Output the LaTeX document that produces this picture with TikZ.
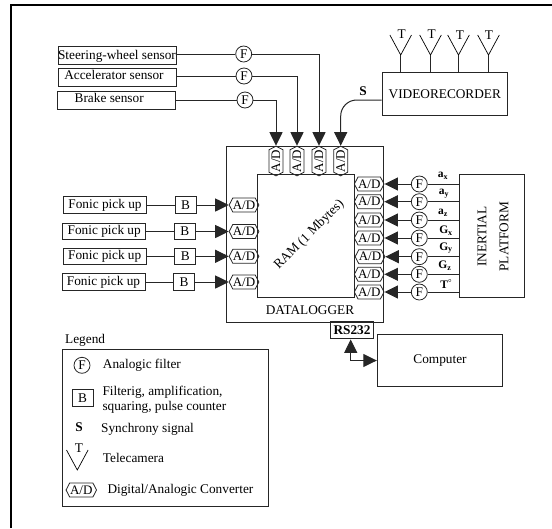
\documentclass[tikz,border=0pt]{standalone}
\usepackage{fontspec}
\setmainfont{Liberation Serif}
\usetikzlibrary{arrows.meta,positioning,shapes.symbols}

\begin{document}
\begin{tikzpicture}[
    x=1pt, y=-1pt,
    >={Triangle[length=13.5pt,width=13pt]},
    every node/.style={font=\fontsize{13.3}{15}\selectfont, inner sep=0pt},
    box/.style={draw=black!85, line width=1pt, align=center},
    sensor/.style={box, minimum width=118pt, minimum height=18pt,
                   text height=9pt, text depth=#1},
    fonic/.style={box, minimum width=83pt, minimum height=16.5pt},
    bbox/.style={box, minimum width=21pt, minimum height=16.5pt},
    filt/.style={draw=black!85, line width=0.8pt, circle, minimum size=16pt},
    ad/.style={draw=black!85, line width=0.8pt, signal, signal to=west and east,
               signal pointer angle=125, minimum width=28.5pt, minimum height=14pt,
               font=\fontsize{13}{14}\selectfont},
    wire/.style={draw=black!85, line width=1pt},
    arr/.style={wire, ->},
    lbl/.style={font=\fontsize{11.5}{13}\selectfont\bfseries},
    txt/.style={anchor=west, align=left},
    camera/.pic={\draw[line width=0.7pt] (-10.8,-20) -- (0,0) -- (10.8,-20);},
  ]
  \useasboundingbox (0,0) rectangle (552,528);

  % frame (top and left only)
  \coordinate (frameA) at (11,528);
  \coordinate (frameB) at (11,5);
  \coordinate (frameC) at (552,5);
  \draw[line width=1.5pt] (frameA) -- (frameB) -- (frameC);

  % Datalogger and RAM
  \node[box, minimum width=156.6pt, minimum height=175.6pt] (logger) at (305,234.5) {};
  \node[box, minimum width=97pt, minimum height=122.7pt] (ram) at (306.2,236.3) {};
  \node[rotate=45] (ramlbl) at (309.3,235) {RAM (1 Mbytes)};
  \node (loggerlbl) at (310,310) {DATALOGGER};

  % A/D on top
  \node[ad, rotate=90] (adt1) at (276,161) {A/D};
  \node[ad, rotate=90] (adt2) at (297,161) {A/D};
  \node[ad, rotate=90] (adt3) at (319,161) {A/D};
  \node[ad, rotate=90] (adt4) at (340.7,161) {A/D};

  % A/D on the left
  \node[ad] (adl1) at (244,205) {A/D};
  \node[ad] (adl2) at (244,231.5) {A/D};
  \node[ad] (adl3) at (244,256.3) {A/D};
  \node[ad] (adl4) at (244,282) {A/D};

  % A/D on the right
  \node[ad] (adr1) at (369.2,184) {A/D};
  \node[ad] (adr2) at (369.2,201.7) {A/D};
  \node[ad] (adr3) at (369.2,220) {A/D};
  \node[ad] (adr4) at (369.2,238) {A/D};
  \node[ad] (adr5) at (370,256.7) {A/D};
  \node[ad] (adr6) at (369.2,274.3) {A/D};
  \node[ad] (adr7) at (369.2,292) {A/D};

  % Sensors
  \node[sensor=0pt] (steer) at (117,55) {Steering-wheel sensor};
  \node[sensor=4.2pt] (accel) at (117,77) {Accelerator sensor\hspace*{6pt}};
  \node[sensor=4.6pt] (brake) at (116.7,100) {Brake sensor\hspace*{15pt}};
  \node[filt] (fs1) at (243.7,54) {F};
  \node[filt] (fs2) at (244,76) {F};
  \node[filt] (fs3) at (245,100) {F};

  \draw[wire] (steer.east |- fs1) -- (fs1);
  \draw[wire] (accel.east |- fs2) -- (fs2);
  \draw[wire] (brake) -- (fs3);
  \draw[arr] (fs1) -| (adt3.east);
  \draw[arr] (fs2) -| (adt2.east);
  \draw[arr] (fs3) -| (adt1.east);

  % Videorecorder and telecameras
  \node[box, minimum width=125.5pt, minimum height=42.5pt] (vcr) at (444.8,94) {VIDEORECORDER};
  \coordinate (cam1) at (400.7,55);
  \coordinate (cam2) at (430.5,55);
  \coordinate (cam3) at (458.5,55);
  \coordinate (cam4) at (488.5,55);
  \pic at (cam1) {camera};
  \pic at (cam2) {camera};
  \pic at (cam3) {camera};
  \pic at (cam4) {camera};
  \node (t1) at (401.7,34.5) {T};
  \node (t2) at (431.7,34.5) {T};
  \node (t3) at (460,35.5) {T};
  \node (t4) at (489,35.5) {T};
  \draw[wire] (cam1) -- (cam1 |- vcr.north);
  \draw[wire] (cam2) -- (cam2 |- vcr.north);
  \draw[wire] (cam3) -- (cam3 |- vcr.north);
  \draw[wire] (cam4) -- (cam4 |- vcr.north);
  \draw[arr, rounded corners=16pt] ([yshift=-6pt]vcr.west) -| (adt4.east);
  \node[lbl, font=\fontsize{13.3}{15}\selectfont\bfseries] (sync) at (363,91.5) {S};

  % Fonic pick ups
  \node[fonic] (fon1) at (105,205) {Fonic pick up};
  \node[fonic] (fon2) at (104.2,231.5) {Fonic pick up};
  \node[fonic] (fon3) at (104.7,256.3) {Fonic pick up};
  \node[fonic] (fon4) at (103.5,282) {Fonic pick up};
  \node[bbox, right=27.5pt of fon1] (b1) {B};
  \node[bbox, right=27.5pt of fon2] (b2) {B};
  \node[bbox, right=27.5pt of fon3] (b3) {B};
  \node[bbox, right=27.5pt of fon4] (b4) {B};
  \draw[wire] (fon1) -- (b1);
  \draw[wire] (fon2) -- (b2);
  \draw[wire] (fon3) -- (b3);
  \draw[wire] (fon4) -- (b4);
  \draw[arr] (b1) -- (adl1.west);
  \draw[arr] (b2) -- (adl2.west);
  \draw[arr] (b3) -- (adl3.west);
  \draw[arr] (b4) -- (adl4.west);

  % Inertial platform
  \node[box, minimum width=65pt, minimum height=122.7pt] (plat) at (491.8,236.3) {};
  \node[rotate=90, align=center, font=\fontsize{13.3}{22}\selectfont] (platlbl) at (493,236.7) {INERTIAL\\PLATFORM};
  \node[filt] (fr1) at (419.3,184) {F};
  \node[filt] (fr2) at (419.3,201.7) {F};
  \node[filt] (fr3) at (419.3,220) {F};
  \node[filt] (fr4) at (419.3,238) {F};
  \node[filt] (fr5) at (419.3,256.7) {F};
  \node[filt] (fr6) at (419.3,274.3) {F};
  \node[filt] (fr7) at (419.3,292) {F};
  \draw[wire] (plat.west |- fr1) -- (fr1);
  \draw[wire] (plat.west |- fr2) -- (fr2);
  \draw[wire] (plat.west |- fr3) -- (fr3);
  \draw[wire] (plat.west |- fr4) -- (fr4);
  \draw[wire] (plat.west |- fr5) -- (fr5);
  \draw[wire] (plat.west |- fr6) -- (fr6);
  \draw[wire] (plat.west |- fr7) -- (fr7);
  \draw[arr] (fr1) -- (adr1.east);
  \draw[arr] (fr2) -- (adr2.east);
  \draw[arr] (fr3) -- (adr3.east);
  \draw[arr] (fr4) -- (adr4.east);
  \draw[arr] (fr5) -- (adr5.east);
  \draw[arr] (fr6) -- (adr6.east);
  \draw[arr] (fr7) -- (adr7.east);
  \node[lbl] (ax) at (443,176) {a\textsubscript{x}};
  \node[lbl] (ay) at (444,193.5) {a\textsubscript{y}};
  \node[lbl] (az) at (443,212.7) {a\textsubscript{z}};
  \node[lbl] (gx) at (446,231) {G\textsubscript{x}};
  \node[lbl] (gy) at (446,248) {G\textsubscript{y}};
  \node[lbl] (gz) at (445,266) {G\textsubscript{z}};
  \node[lbl] (temp) at (446,284) {T\raisebox{2.5pt}{\fontsize{9}{9}\selectfont\mdseries °}};

  % Computer link
  \node[box, line width=1.1pt, minimum width=42.5pt, minimum height=17.7pt,
        font=\fontsize{13.3}{15}\selectfont\bfseries] (rs) at (352,330) {RS232};
  \node[box, minimum width=125.4pt, minimum height=52.4pt] (comp) at (440,360.5) {Computer};
  \draw[wire, <->] ([xshift=-1.3pt]rs.south) |- (comp.west);

  % Legend
  \node[box, minimum width=206.3pt, minimum height=157pt] (legend) at (165.8,427.5) {};
  \node[txt] (legendlbl) at (65,340.7) {Legend};
  \node[filt] (lgf) at (82,365.3) {F};
  \node[txt] (lgftxt) at (102.7,365) {Analogic filter};
  \node[bbox, minimum height=17.4pt] (lgb) at (82.5,398) {B};
  \node[txt, font=\fontsize{13.3}{15.3}\selectfont] (lgbtxt) at (102.3,400) {Filterig, amplification,\\squaring, pulse counter};
  \node[lbl, font=\fontsize{13.3}{15}\selectfont\bfseries] (lgs) at (79,426.7) {S};
  \node[txt] (lgstxt) at (101,429) {Synchrony signal};
  \coordinate (lgcam) at (77.3,470);
  \pic at (lgcam) {camera};
  \node (lgt) at (79,448) {T};
  \node[txt] (lgttxt) at (102.7,458) {Telecamera};
  \node[ad, minimum width=30.5pt] (lgad) at (81.3,490) {A/D};
  \node[txt] (lgadtxt) at (107.3,490) {Digital/Analogic Converter};
\end{tikzpicture}
\end{document}
